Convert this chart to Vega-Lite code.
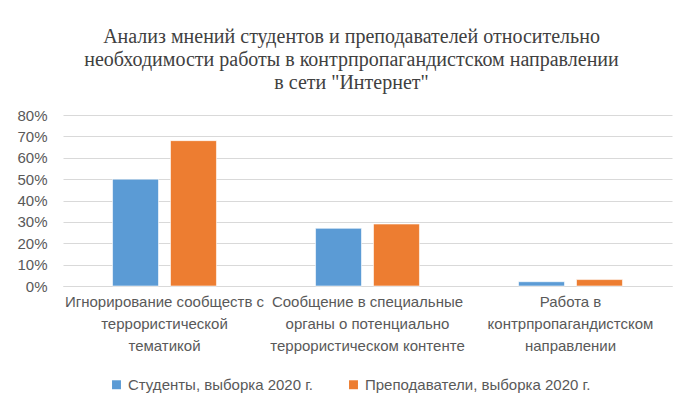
{
  "$schema": "https://vega.github.io/schema/vega-lite/v6.json",
  "width": 609,
  "height": 171,
  "autosize": "none",
  "padding": {"left": 63, "top": 115, "right": 15, "bottom": 123},
  "background": "white",
  "title": {
    "text": ["Анализ мнений студентов и преподавателей относительно", "необходимости работы в контрпропагандистском направлении", "в сети \"Интернет\""],
    "font": "Liberation Serif",
    "fontSize": 20,
    "fontWeight": "normal",
    "color": "#404040",
    "lineHeight": 23,
    "anchor": "middle",
    "frame": "group",
    "dx": -16,
    "offset": 15
  },
  "data": {
    "values": [
      {"cat": "Игнорирование сообществ с|террористической|тематикой", "series": "Студенты, выборка 2020 г.", "value": 0.50},
      {"cat": "Игнорирование сообществ с|террористической|тематикой", "series": "Преподаватели, выборка 2020 г.", "value": 0.68},
      {"cat": "Сообщение в специальные|органы о потенциально|террористическом контенте", "series": "Студенты, выборка 2020 г.", "value": 0.27},
      {"cat": "Сообщение в специальные|органы о потенциально|террористическом контенте", "series": "Преподаватели, выборка 2020 г.", "value": 0.29},
      {"cat": "Работа в|контрпропагандистском|направлении", "series": "Студенты, выборка 2020 г.", "value": 0.02},
      {"cat": "Работа в|контрпропагандистском|направлении", "series": "Преподаватели, выборка 2020 г.", "value": 0.03}
    ]
  },
  "mark": {"type": "bar", "stroke": "white", "strokeWidth": 1, "strokeOpacity": 0.6},
  "encoding": {
    "x": {
      "field": "cat",
      "type": "nominal",
      "sort": null,
      "scale": {"paddingInner": 0.488, "paddingOuter": 0.244},
      "axis": {
        "title": null,
        "labelAngle": 0,
        "labelExpr": "split(datum.label, '|')",
        "labelFont": "Liberation Sans",
        "labelFontSize": 15,
        "labelColor": "#595959",
        "labelLineHeight": 22,
        "labelPadding": 8,
        "ticks": false,
        "domainColor": "#d9d9d9",
        "labelLimit": 300
      }
    },
    "xOffset": {
      "field": "series",
      "type": "nominal",
      "sort": ["Студенты, выборка 2020 г.", "Преподаватели, выборка 2020 г."],
      "scale": {"paddingInner": 0.207, "paddingOuter": 0}
    },
    "y": {
      "field": "value",
      "type": "quantitative",
      "scale": {"domain": [0, 0.8]},
      "axis": {
        "title": null,
        "format": ".0%",
        "values": [0, 0.1, 0.2, 0.3, 0.4, 0.5, 0.6, 0.7, 0.8],
        "labelOverlap": false,
        "domain": false,
        "ticks": false,
        "labelFont": "Liberation Sans",
        "labelFontSize": 15,
        "labelColor": "#595959",
        "labelPadding": 16,
        "gridColor": "#d9d9d9",
        "gridWidth": 1
      }
    },
    "color": {
      "field": "series",
      "type": "nominal",
      "sort": ["Студенты, выборка 2020 г.", "Преподаватели, выборка 2020 г."],
      "scale": {"range": ["#5b9bd5", "#ed7d31"]},
      "legend": {
        "title": null,
        "orient": "none",
        "legendX": 46,
        "legendY": 262,
        "direction": "horizontal",
        "symbolType": "square",
        "symbolSize": 80,
        "symbolStrokeWidth": 0,
        "labelFont": "Liberation Sans",
        "labelFontSize": 15,
        "labelColor": "#595959",
        "columnPadding": 32,
        "labelLimit": 400
      }
    }
  },
  "config": {"view": {"stroke": null}}
}
